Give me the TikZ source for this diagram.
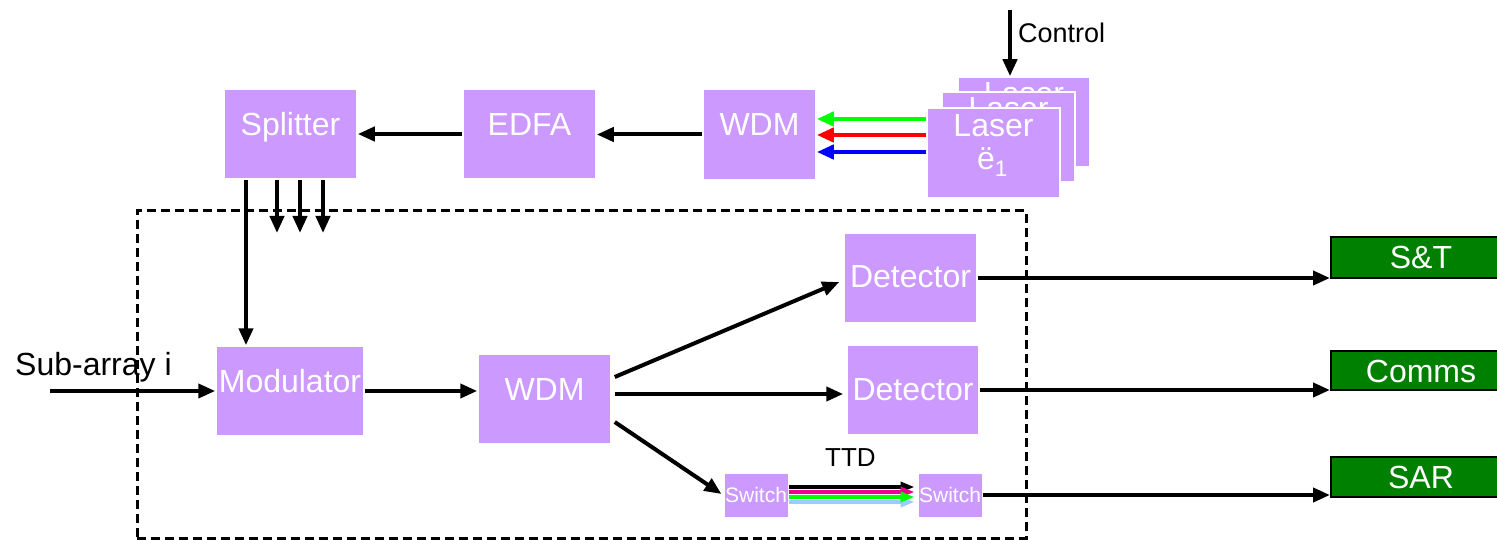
\documentclass[tikz,border=0pt]{standalone}
\usepackage{fontspec}
\setmainfont{Liberation Sans}
\usetikzlibrary{arrows.meta,calc}

\definecolor{boxpurple}{HTML}{CC99FF}
\definecolor{outgreen}{HTML}{008000}
\definecolor{ttdblue}{HTML}{99CCFF}
\definecolor{lgreen}{HTML}{00FF00}

\tikzset{
  unit/.style={fill=boxpurple, draw=white, line width=1.5pt, inner sep=0pt,
    text=white, font=\fontsize{32}{38}\selectfont,
    text height=23pt, text depth=#1, minimum height=90pt},
  unit/.default=20pt,
  swbox/.style={fill=boxpurple, draw=white, line width=1pt, inner sep=0pt,
    text=white, font=\fontsize{21}{25}\selectfont,
    text height=15pt, text depth=1pt, minimum width=64pt, minimum height=44pt},
  outbox/.style={fill=outgreen, draw=black, line width=2pt, inner sep=0pt,
    text=white, font=\fontsize{32}{38}\selectfont,
    text height=23pt, text depth=0pt, minimum width=180pt},
  lbl/.style={inner sep=0pt, text=white, font=\fontsize{32}{38}\selectfont},
  plain/.style={inner sep=0pt, text=black},
  arr/.style={line width=4pt, -{Triangle[length=17pt,width=14pt]}},
  carr/.style={line width=4.5pt, -{Triangle[length=17pt,width=14pt]}},
  tarr/.style={line width=4pt, -{Triangle[length=14pt,width=10pt]}},
  grpbox/.style={draw=black, line width=3pt, dash pattern=on 9pt off 5pt,
    inner sep=0pt, minimum width=889pt, minimum height=327pt},
}

\begin{document}
\begin{tikzpicture}[x=1pt,y=-1pt]
\useasboundingbox (0,0) rectangle (1497,540);

% receiver group (dashed)
\node[grpbox] (grp) at (581.5,374.5) {};

% optical source chain
\node[unit, minimum width=133pt] (spl) at (290.5,134) {Splitter};
\node[unit=19pt, minimum width=133pt] (edfa) at (529.5,134) {EDFA};
\node[unit, minimum width=113pt] (wdm1) at (759.5,134.5) {WDM};

% stacked lasers
\node[unit, minimum width=132pt] (las3) at (1024,122) {};
\node[lbl, anchor=base] (las3a) at ([yshift=-28pt]las3.north) {Laser};
\node[unit, minimum width=133pt] (las2) at (1008.5,137) {};
\node[lbl, anchor=base] (las2a) at ([yshift=-28pt]las2.north) {Laser};
\node[unit, minimum width=133pt] (las1) at (993.5,153) {};
\node[lbl, anchor=base] (las1a) at ([yshift=-29pt]las1.north) {Laser};
\node[lbl, anchor=base] (las1b) at ([xshift=-1pt,yshift=-62pt]las1.north) {ë\textsubscript{1}};

% control input
\coordinate (ctl) at (1010,10);
\draw[arr] (ctl) -- (ctl |- las3.north);
\node[plain, anchor=base west, font=\fontsize{27}{32}\selectfont] (ctltxt) at (1018,43) {Control};

% wavelengths into the multiplexer
\draw[carr, lgreen] ([yshift=34pt]las1.west) -- ([yshift=34pt]las1.west -| wdm1.east);
\draw[carr, red] ([yshift=18pt]las1.west) -- ([yshift=18pt]las1.west -| wdm1.east);
\draw[carr, blue] ([yshift=1pt]las1.west) -- ([yshift=1pt]las1.west -| wdm1.east);

\draw[arr] (wdm1.west) -- (wdm1.west -| edfa.east);
\draw[arr] (edfa.west) -- (edfa.west -| spl.east);

% sub-array path
\node[unit, minimum width=148pt] (mod) at (290,391) {Modulator};
\node[unit, minimum width=133pt] (wdm2) at (544.5,399) {WDM};
\node[unit=4pt, minimum width=133pt] (det1) at (910.5,278) {Detector};
\node[unit=3pt, minimum width=132pt] (det2) at (913,390) {Detector};
\node[swbox] (sw1) at (756,495) {Switch};
\node[swbox] (sw2) at (950,495) {Switch};

% splitter outputs
\coordinate (t2) at (277,233);
\coordinate (t3) at (300,233);
\coordinate (t4) at (323,233);
\draw[arr] ([xshift=-44.5pt]spl.south) -- ([xshift=-44.5pt]spl.south |- mod.north);
\draw[arr] ([xshift=-13.5pt]spl.south) -- (t2);
\draw[arr] ([xshift=9.5pt]spl.south) -- (t3);
\draw[arr] ([xshift=32.5pt]spl.south) -- (t4);

% antenna input
\coordinate (sub) at (50,391);
\draw[arr] (sub) -- (mod.west);
\node[plain, anchor=base west, font=\fontsize{32}{38}\selectfont] (subtxt) at (15,375) {Sub-array i};

\draw[arr] (mod.east) -- (mod.east -| wdm2.west);
\draw[arr] ([shift={(3,-22)}]wdm2.east) -- ([shift={(-4,4)}]det1.west);
\draw[arr] ([shift={(3,-5)}]wdm2.east) -- ([shift={(-3,-5)}]wdm2.east -| det2.west);
\draw[arr] ([shift={(3,23)}]wdm2.east) -- ([shift={(-2,-1)}]sw1.west);

% true time delay lines
\node[plain, anchor=base west, font=\fontsize{26}{31}\selectfont] (ttd) at (825,466) {TTD};
\draw[tarr, black] ([yshift=8pt]sw1.east) -- ([xshift=-3pt,yshift=8pt]sw2.west);
\draw[tarr, magenta] ([yshift=3pt]sw1.east) -- ([xshift=-3pt,yshift=3pt]sw2.west);
\draw[tarr, ttdblue] ([yshift=-7pt]sw1.east) -- ([xshift=-3pt,yshift=-7pt]sw2.west);
\draw[tarr, lgreen] ([yshift=-2pt]sw1.east) -- ([xshift=-3pt,yshift=-2pt]sw2.west);

% system outputs
\node[outbox, minimum height=40pt] (st) at (1421,257.5) {S\&T};
\node[outbox, minimum height=39pt] (comms) at (1421,370.5) {Comms};
\node[outbox, minimum height=40pt] (sar) at (1421,477) {SAR};

\draw[arr] (det1.east) -- (det1.east -| st.west);
\draw[arr] (det2.east) -- (det2.east -| comms.west);
\draw[arr] (sw2.east) -- (sw2.east -| sar.west);
\end{tikzpicture}
\end{document}
